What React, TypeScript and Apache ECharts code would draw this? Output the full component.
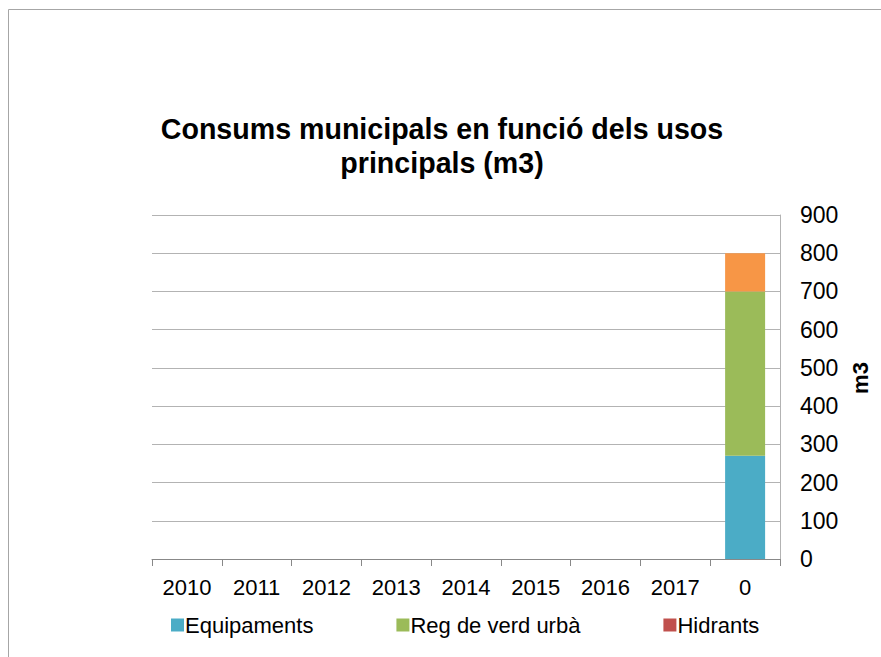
import React, { useEffect, useRef } from "react";
import * as echarts from "echarts";

const categories = ["2010", "2011", "2012", "2013", "2014", "2015", "2016", "2017", "0"];
const equipaments = [0, 0, 0, 0, 0, 0, 0, 0, 270];
const regVerdUrba = [0, 0, 0, 0, 0, 0, 0, 0, 430];
const hidrants = [0, 0, 0, 0, 0, 0, 0, 0, 0];
const altres = [0, 0, 0, 0, 0, 0, 0, 0, 100];
const legendNames = ["Equipaments", "Reg de verd urbà", "Hidrants"];

const FONT = "'Liberation Sans', Arial, sans-serif";

export default function App() {
  const ref = useRef<HTMLDivElement>(null);
  useEffect(() => {
    if (!ref.current) return;
    const chart = echarts.init(ref.current, null, { renderer: "svg" });
    const barBase = { type: "bar", stack: "total", barWidth: 40 };
    chart.setOption({
      animation: false,
      backgroundColor: "#ffffff",
      textStyle: { fontFamily: FONT },
      title: {
        text: "Consums municipals en funció dels usos\nprincipals (m3)",
        left: 437,
        top: 107,
        textAlign: "center",
        textStyle: {
          fontFamily: FONT,
          fontSize: 28.6,
          fontWeight: "bold",
          color: "#000",
          lineHeight: 34,
        },
      },
      graphic: [
        {
          type: "rect",
          shape: { x: 8.5, y: 9.5, width: 1000, height: 1000 },
          style: { fill: "none", stroke: "#a6a6a6", lineWidth: 1 },
          silent: true,
        },
      ],
      legend: {
        data: legendNames,
        left: 166,
        top: 609,
        itemWidth: 13,
        itemHeight: 13,
        itemGap: 83,
        icon: "rect",
        textStyle: { fontFamily: FONT, fontSize: 22, color: "#000", padding: [0, 0, 0, -4] },
      },
      grid: { left: 152, right: 101, top: 215, bottom: 98, containLabel: false },
      xAxis: {
        type: "category",
        data: categories,
        axisLine: { show: true, lineStyle: { color: "#888888" } },
        axisTick: { show: true, length: 7, alignWithLabel: false, lineStyle: { color: "#888888" } },
        axisLabel: { fontFamily: FONT, fontSize: 22, color: "#000", margin: 17, interval: 0 },
        splitLine: { show: false },
      },
      yAxis: {
        type: "value",
        position: "right",
        min: 0,
        max: 900,
        interval: 100,
        name: "m3",
        nameLocation: "middle",
        nameRotate: 90,
        nameGap: 63,
        nameTextStyle: { fontFamily: FONT, fontSize: 22, fontWeight: "bold", color: "#000", padding: [0, 0, 0, 18] },
        axisLine: { show: true, lineStyle: { color: "#b3b3b3" } },
        axisTick: { show: false },
        axisLabel: { fontFamily: FONT, fontSize: 23, color: "#000", margin: 20 },
        splitLine: { show: true, lineStyle: { color: "#b3b3b3" } },
      },
      series: [
        { ...barBase, name: "Equipaments", data: equipaments, itemStyle: { color: "#4BACC6" } },
        { ...barBase, name: "Reg de verd urbà", data: regVerdUrba, itemStyle: { color: "#9BBB59" } },
        { ...barBase, name: "Hidrants", data: hidrants, itemStyle: { color: "#C0504D" } },
        { ...barBase, name: "Altres", data: altres, itemStyle: { color: "#F79646" } },
      ],
    });
    return () => chart.dispose();
  }, []);
  return (
    <div
      ref={ref}
      style={{ position: "fixed", left: 0, top: 0, width: 881, height: 657 }}
    />
  );
}
